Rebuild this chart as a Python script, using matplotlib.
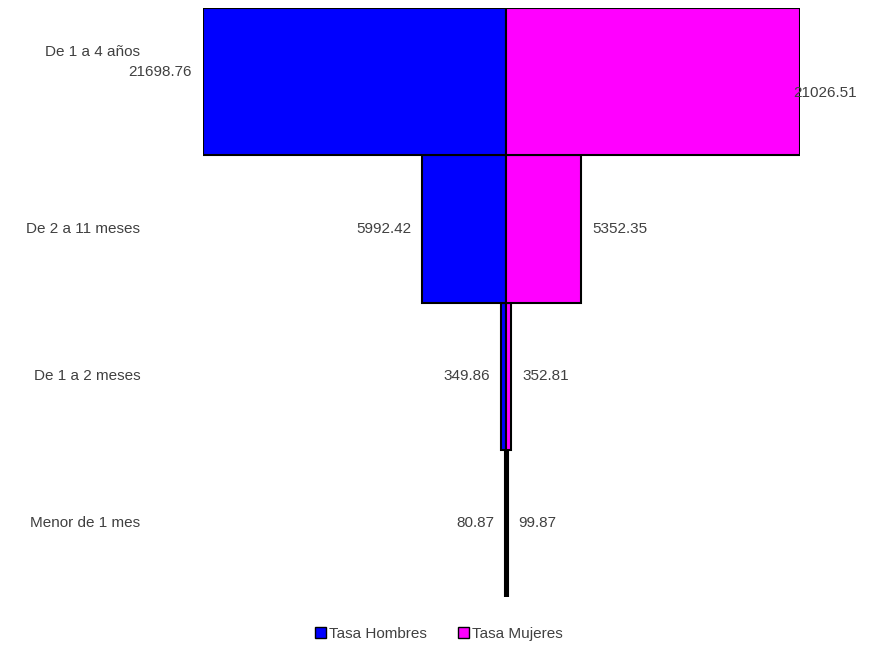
import matplotlib
matplotlib.use("Agg")
import matplotlib.pyplot as plt
from matplotlib.patches import Patch

# datos (de abajo hacia arriba)
grupos = ["Menor de 1 mes", "De 1 a 2 meses", "De 2 a 11 meses", "De 1 a 4 años"]
tasa_hombres = [80.87, 349.86, 5992.42, 21698.76]
tasa_mujeres = [99.87, 352.81, 5352.35, 21026.51]
etiq_hombres = ["80.87", "349.86", "5992.42", "21698.76"]
etiq_mujeres = ["99.87", "352.81", "5352.35", "21026.51"]

AZUL = "#0000FF"
MAGENTA = "#FF00FF"
TEXTO = "#404040"

plt.rcParams["font.family"] = ["Liberation Sans", "DejaVu Sans"]
plt.rcParams["font.size"] = 11

W, H = 871, 648
fig = plt.figure(figsize=(W / 100, H / 100), dpi=100)
ax = fig.add_axes([203 / W, (H - 597) / H, (800 - 203) / W, (597 - 8) / H])

y = list(range(len(grupos)))
ax.barh(y, [-v for v in tasa_hombres], height=1.0, color=AZUL,
        edgecolor="black", linewidth=1.5)
ax.barh(y, tasa_mujeres, height=1.0, color=MAGENTA,
        edgecolor="black", linewidth=1.5)

ax.set_xlim(-max(tasa_hombres), max(tasa_mujeres))
ax.set_ylim(-0.5, len(grupos) - 0.5)
ax.axis("off")

# etiquetas de categoría a la izquierda
cat_dy = [0, 0, 0, 0.2]
for yi, g, d in zip(y, grupos, cat_dy):
    ax.text(-0.105, yi + d, g, transform=ax.get_yaxis_transform(),
            ha="right", va="center", color=TEXTO)

# valores
h_dy = [0, 0, 0, 7]
m_dy = [0, 0, 0, -8]
m_dx = [8, 8, 8, -5]
for yi, vh, vm, th, tm, a, b, c in zip(y, tasa_hombres, tasa_mujeres,
                                     etiq_hombres, etiq_mujeres, h_dy, m_dy, m_dx):
    ax.annotate(th, (-vh, yi), xytext=(-8, a), textcoords="offset points",
                ha="right", va="center", color=TEXTO, annotation_clip=False)
    ax.annotate(tm, (vm, yi), xytext=(c, b), textcoords="offset points",
                ha="left", va="center", color=TEXTO, annotation_clip=False)

handles = [Patch(facecolor=AZUL, edgecolor="black", label="Tasa Hombres"),
           Patch(facecolor=MAGENTA, edgecolor="black", label="Tasa Mujeres")]
leg = fig.legend(handles=handles, loc="center", bbox_to_anchor=(439 / W, 1 - 634 / H),
                 ncol=2, frameon=False, handlelength=0.7, handleheight=0.7,
                 handletextpad=0.25, columnspacing=2.0)
for t in leg.get_texts():
    t.set_color(TEXTO)

fig.savefig("out.png", dpi=100)
